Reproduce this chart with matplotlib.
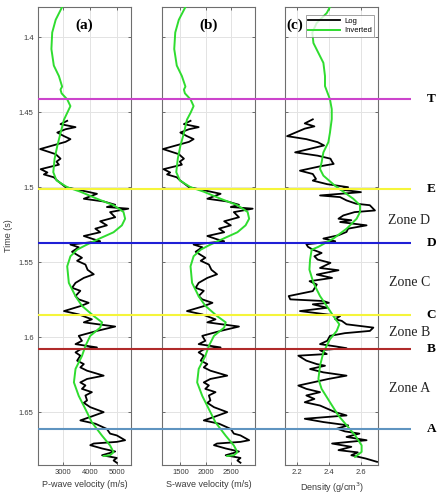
import numpy as np
import matplotlib
matplotlib.use("Agg")
import matplotlib.pyplot as plt

# ---- log (black) : time (s) and values at turning points
t_log_v = [1.4558, 1.4580, 1.4600, 1.4614, 1.4636, 1.4660, 1.4680, 1.4698, 1.4746, 1.4780,
           1.4810, 1.4830, 1.4850, 1.4880, 1.4902, 1.4915, 1.4934, 1.4956, 1.5000, 1.5020,
           1.5044, 1.5077, 1.5095, 1.5117, 1.5132, 1.5143, 1.5166, 1.5200, 1.5227, 1.5254,
           1.5276, 1.5300, 1.5325, 1.5347, 1.5360, 1.5382, 1.5400, 1.5430, 1.5470, 1.5490,
           1.5515, 1.5550, 1.5580, 1.5604, 1.5637, 1.5670, 1.5690, 1.5725, 1.5747, 1.5770,
           1.5792, 1.5825, 1.5847, 1.5880, 1.5900, 1.5928, 1.5957, 1.5990, 1.6023, 1.6045,
           1.6067, 1.6080, 1.6100, 1.6122, 1.6155, 1.6178, 1.6200, 1.6222, 1.6255, 1.6277,
           1.6300, 1.6320, 1.6343, 1.6365, 1.6387, 1.6420, 1.6436, 1.6465, 1.6498, 1.6530,
           1.6553, 1.6575, 1.6610, 1.6641, 1.6653, 1.6685, 1.6696, 1.6707, 1.6718, 1.6740,
           1.6760, 1.6785, 1.6803, 1.6820, 1.6835]
vp_log = [3150, 2900, 3460, 3090, 2780, 3030, 3270, 3090, 2140, 2720,
          2900, 2750, 2840, 2160, 2410, 2280, 2650, 2780, 3090, 3640,
          4260, 3770, 4510, 4940, 4630, 5430, 4750, 4940, 4380, 4630,
          4200, 4380, 3770, 4140, 4380, 3270, 3580, 3330, 3700, 3520,
          3830, 3910, 4140, 3770, 3460, 3330, 3640, 3460, 3580, 3950,
          3640, 3030, 3580, 4070, 3770, 4940, 4260, 3580, 3700, 3460,
          4260, 3640, 3460, 3640, 3520, 3770, 3640, 3890, 4510, 3890,
          3640, 3830, 3700, 4070, 3830, 3890, 3770, 4010, 4510, 4010,
          3640, 4200, 4630, 4750, 5000, 5310, 5000, 4140, 4010, 4450,
          4940, 4450, 5000, 4880, 5000]
vs_log = [1700, 1570, 1860, 1670, 1500, 1630, 1760, 1670, 1160, 1470,
          1570, 1490, 1530, 1170, 1300, 1240, 1430, 1500, 1670, 1960,
          2290, 2030, 2420, 2650, 2490, 2920, 2550, 2650, 2360, 2490,
          2260, 2360, 2030, 2220, 2360, 1760, 1930, 1800, 1990, 1900,
          2060, 2110, 2220, 2030, 1860, 1800, 1960, 1860, 1930, 2130,
          1960, 1630, 1930, 2190, 2030, 2650, 2290, 1930, 1990, 1860,
          2290, 1960, 1860, 1960, 1900, 2030, 1960, 2090, 2420, 2090,
          1960, 2060, 1990, 2190, 2060, 2090, 2030, 2160, 2420, 2160,
          1960, 2260, 2490, 2550, 2680, 2850, 2680, 2220, 2160, 2390,
          2650, 2390, 2680, 2620, 2680]

t_log_rho = [1.4548, 1.4575, 1.4595, 1.4610, 1.4660, 1.4680, 1.4700, 1.4722, 1.4768, 1.4790,
             1.4810, 1.4830, 1.4845, 1.4860, 1.4890, 1.4912, 1.4945, 1.4956, 1.4980, 1.5000,
             1.5015, 1.5033, 1.5055, 1.5066, 1.5088, 1.5110, 1.5120, 1.5155, 1.5166, 1.5188,
             1.5210, 1.5220, 1.5232, 1.5254, 1.5276, 1.5298, 1.5320, 1.5342, 1.5360, 1.5380,
             1.5397, 1.5416, 1.5438, 1.5460, 1.5482, 1.5504, 1.5538, 1.5553, 1.5582, 1.5604,
             1.5626, 1.5648, 1.5692, 1.5725, 1.5747, 1.5758, 1.5770, 1.5780, 1.5803, 1.5825,
             1.5840, 1.5858, 1.5880, 1.5890, 1.5913, 1.5935, 1.5957, 1.5972, 1.5990, 1.6023,
             1.6045, 1.6060, 1.6072, 1.6085, 1.6111, 1.6122, 1.6155, 1.6178, 1.6189, 1.6211,
             1.6233, 1.6255, 1.6277, 1.6299, 1.6321, 1.6343, 1.6365, 1.6387, 1.6410, 1.6432,
             1.6454, 1.6498, 1.6520, 1.6542, 1.6564, 1.6586, 1.6608, 1.6626, 1.6641, 1.6663,
             1.6685, 1.6707, 1.6729, 1.6751, 1.6766, 1.6785, 1.6807, 1.6829]
rho_log = [2.30, 2.25, 2.31, 2.25, 2.14, 2.26, 2.33, 2.37, 2.19, 2.33,
           2.41, 2.42, 2.43, 2.35, 2.22, 2.30, 2.32, 2.30, 2.39, 2.52,
           2.47, 2.60, 2.345, 2.47, 2.51, 2.57, 2.655, 2.687, 2.56, 2.49,
           2.46, 2.54, 2.47, 2.635, 2.52, 2.51, 2.46, 2.366, 2.44, 2.26,
           2.27, 2.30, 2.355, 2.31, 2.33, 2.41, 2.345, 2.46, 2.325, 2.42,
           2.28, 2.325, 2.30, 2.15, 2.16, 2.366, 2.40, 2.30, 2.39, 2.22,
           2.335, 2.47, 2.44, 2.48, 2.51, 2.677, 2.656, 2.50, 2.407, 2.39,
           2.345, 2.44, 2.51, 2.345, 2.387, 2.21, 2.26, 2.325, 2.376, 2.283,
           2.366, 2.51, 2.397, 2.304, 2.21, 2.26, 2.345, 2.26, 2.31, 2.25,
           2.345, 2.44, 2.51, 2.25, 2.366, 2.52, 2.45, 2.50, 2.59, 2.51,
           2.635, 2.42, 2.54, 2.46, 2.58, 2.54, 2.63, 2.70]

# ---- inverted (green)
t_inv_v = [1.380, 1.3885, 1.397, 1.408, 1.419, 1.426, 1.433, 1.435, 1.4375, 1.4415,
           1.446, 1.4505, 1.455, 1.464, 1.4725, 1.481, 1.490, 1.4955, 1.500, 1.503,
           1.5077, 1.512, 1.5165, 1.521, 1.5254, 1.530, 1.534, 1.5387, 1.5416, 1.546,
           1.5527, 1.5637, 1.5726, 1.579, 1.5858, 1.590, 1.5935, 1.599, 1.6057, 1.6124,
           1.621, 1.630, 1.639, 1.6478, 1.6566, 1.6655, 1.672, 1.6765, 1.6785, 1.679]
vp_inv = [2960, 2720, 2590, 2560, 2650, 2840, 2960, 2900, 2940, 3150,
          3270, 3150, 3030, 2900, 2780, 2680, 2630, 2750, 3150, 3640,
          4260, 4880, 5250, 5310, 5190, 4880, 4380, 3830, 3520, 3270,
          3150, 3210, 3460, 3700, 4140, 4450, 4380, 4010, 3830, 3700,
          3460, 3400, 3580, 3830, 4070, 4450, 4750, 4880, 4750, 4510]
vs_inv = [1600, 1470, 1400, 1380, 1430, 1530, 1600, 1570, 1590, 1700,
          1760, 1700, 1630, 1570, 1500, 1450, 1420, 1490, 1700, 1960,
          2290, 2620, 2820, 2850, 2780, 2620, 2360, 2060, 1900, 1760,
          1700, 1730, 1860, 1990, 2220, 2390, 2360, 2160, 2060, 1990,
          1860, 1830, 1930, 2060, 2190, 2390, 2550, 2620, 2550, 2420]

t_inv_rho = [1.380, 1.384, 1.3907, 1.397, 1.404, 1.4106, 1.4172, 1.426, 1.4327, 1.4415,
             1.448, 1.4547, 1.4636, 1.470, 1.4768, 1.4834, 1.4879, 1.4923, 1.499, 1.5022,
             1.5077, 1.512, 1.5166, 1.521, 1.5276, 1.5342, 1.5397, 1.5416, 1.5482, 1.5549,
             1.5637, 1.5725, 1.5791, 1.5858, 1.5913, 1.5957, 1.6012, 1.610, 1.6189, 1.6277,
             1.6343, 1.6432, 1.652, 1.6586, 1.6652, 1.6719, 1.6763, 1.6796]
rho_inv = [2.407, 2.387, 2.324, 2.297, 2.304, 2.335, 2.366, 2.376, 2.376, 2.407,
           2.418, 2.418, 2.407, 2.397, 2.366, 2.355, 2.345, 2.366, 2.438, 2.48,
           2.552, 2.594, 2.594, 2.573, 2.511, 2.428, 2.335, 2.293, 2.283, 2.279,
           2.304, 2.345, 2.387, 2.428, 2.465, 2.449, 2.407, 2.366, 2.345, 2.335,
           2.355, 2.407, 2.459, 2.511, 2.563, 2.604, 2.604, 2.563]

# horizons
hz_names = ["T", "E", "D", "C", "B", "A"]
hz_times = [1.4413, 1.5013, 1.5373, 1.5851, 1.6078, 1.6607]
hz_colors = ["#cc44cc", "#f5f53a", "#1f1fd6", "#f5f53a", "#b02a2a", "#5f94c0"]
zone_names = ["Zone D", "Zone C", "Zone B", "Zone A"]
zone_times = [1.522, 1.5633, 1.597, 1.634]

ylims = (1.38, 1.685)
yticks = [1.4, 1.45, 1.5, 1.55, 1.6, 1.65]
ytick_labels = ["1.4", "1.45", "1.5", "1.55", "1.6", "1.65"]

plt.rcParams['font.family'] = ['Liberation Sans', 'DejaVu Sans']
fig = plt.figure(figsize=(4.38, 5.0), dpi=100)

W, H = 438.0, 500.0
top, bot = 7, 465
lefts = [38, 162, 285]
width = 93
axes = []
for l in lefts:
    ax = fig.add_axes([l / W, (H - bot) / H, width / W, (bot - top) / H])
    axes.append(ax)

panels = [
    (t_log_v, vp_log, t_inv_v, vp_inv, (2060, 5530), [3000, 4000, 5000], "P-wave velocity (m/s)", "(a)"),
    (t_log_v, vs_log, t_inv_v, vs_inv, (1140, 2965), [1500, 2000, 2500], "S-wave velocity (m/s)", "(b)"),
    (t_log_rho, rho_log, t_inv_rho, rho_inv, (2.127, 2.706), [2.2, 2.4, 2.6], "Density (g/cm$^3$)", "(c)"),
]

tick_col = "#3a3a3a"
for i, (ax, p) in enumerate(zip(axes, panels)):
    tl, vl, ti, vi, xl, xt, xlab, ttl = p
    ax.plot(vl, tl, color="black", lw=1.3, label="Log", zorder=3)
    ax.plot(vi, ti, color="#2fdc2f", lw=1.4, label="Inverted", zorder=4)
    ax.set_xlim(*xl)
    ax.set_ylim(ylims[1], ylims[0])
    ax.set_xticks(xt)
    if i == 2:
        ax.set_xticklabels(["2.2", "2.4", "2.6"])
    ax.set_yticks(yticks)
    if i == 0:
        ax.set_yticklabels(ytick_labels)
        ax.set_ylabel("Time (s)", fontsize=6.5, color=tick_col, labelpad=4)
    else:
        ax.set_yticklabels([])
    ax.grid(True, color="#e3e3e3", lw=0.7)
    ax.set_axisbelow(True)
    ax.tick_params(direction="in", length=2.5, width=0.6, top=True, right=True,
                   labelsize=5.5, colors="#555555", labelcolor=tick_col, pad=3)
    for s in ax.spines.values():
        s.set_color("#6e6e6e")
        s.set_linewidth(0.8)
    ax.set_xlabel(xlab, fontsize=6.5, color=tick_col, labelpad=3)
    if i < 2:
        ax.text(0.5, 0.975, ttl, transform=ax.transAxes, ha="center", va="top",
                fontsize=11, fontweight="bold", family="Liberation Serif")
    else:
        ax.text(0.02, 0.975, ttl, transform=ax.transAxes, ha="left", va="top",
                fontsize=11, fontweight="bold", family="Liberation Serif")
        leg = ax.legend(loc="upper right", bbox_to_anchor=(0.975, 0.985), fontsize=5.5,
                        handlelength=4.2, frameon=True, fancybox=False, borderpad=0.3,
                        labelspacing=0.25, handletextpad=0.5, borderaxespad=0.2)
        leg.get_frame().set_edgecolor("#777777")
        leg.get_frame().set_linewidth(0.6)

# overlay for horizons spanning all panels
ov = fig.add_axes([38 / W, (H - bot) / H, 373 / W, (bot - top) / H], facecolor="none")
ov.set_ylim(ylims[1], ylims[0])
ov.set_xlim(0, 1)
ov.axis("off")
for name, t, c in zip(hz_names, hz_times, hz_colors):
    ov.axhline(t, color=c, lw=1.5, zorder=5)
    ov.text(1.042, t, name, ha="left", va="center", fontsize=9.5, fontweight="bold",
            family="Liberation Serif", clip_on=False)
for name, t in zip(zone_names, zone_times):
    ov.text(0.995, t, name, ha="center", va="center", fontsize=10,
            family="Liberation Serif", color="#222222", clip_on=False)

fig.savefig("out.png", dpi=100)
